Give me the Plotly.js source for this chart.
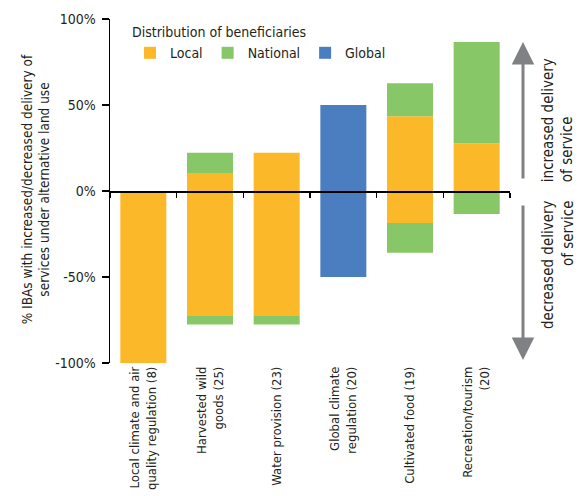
<!DOCTYPE html>
<html>
<head>
<meta charset="utf-8">
<script src="https://cdn.plot.ly/plotly-3.0.1.min.js"></script>
<style>html,body{margin:0;padding:0;background:#fff;}#chart{width:579px;height:496px;}</style>
</head>
<body>
<div id="chart"></div>
<script>
const categories = [
  "Local climate and air<br>quality regulation (8)",
  "Harvested wild<br>goods (25)",
  "Water provision (23)",
  "Global climate<br>regulation (20)",
  "Cultivated food (19)",
  "Recreation/tourism<br>(20)"
];
// stacked segments (increments), positive = increased, negative = decreased
const localUp      = [0, 10, 22.3, 0, 43.5, 27.8];
const localDown    = [-100, -72.3, -72.3, 0, -18.6, 0];
const nationalUp   = [0, 12.3, 0, 0, 19.2, 58.8];
const nationalDown = [0, -5.3, -5.3, 0, -17.3, -13.4];
const globalUp     = [0, 0, 0, 50, 0, 0];
const globalDown   = [0, 0, 0, -50, 0, 0];
const yTicks = [-100, -50, 0, 50, 100];
const yTickText = ["-100%", "-50%", "0%", "50%", "100%"];

const FONT = "'Liberation Sans Narrow', 'DejaVu Sans Condensed', 'Roboto', sans-serif";
const cLocal = "#FBB829", cNat = "#88C767", cGlob = "#4A7EC1", cArrow = "#808184";

function bar(y, color, name, show) {
  return {type: 'bar', x: categories, y: y, name: name, showlegend: show,
    marker: {color: color, line: {width: 0}}, hoverinfo: 'skip'};
}
const traces = [
  bar(localUp, cLocal, 'Local', true),
  bar(localDown, cLocal, 'Local', false),
  bar(nationalUp, cNat, 'National', true),
  bar(nationalDown, cNat, 'National', false),
  bar(globalUp, cGlob, 'Global', true),
  bar(globalDown, cGlob, 'Global', false),
  {type: 'scatter', x: categories, y: categories.map(() => null), xaxis: 'x2', showlegend: false, hoverinfo: 'skip'}
];

const layout = {
  width: 579, height: 496,
  margin: {l: 110, r: 69, t: 19, b: 133},
  paper_bgcolor: '#fff', plot_bgcolor: '#fff',
  font: {family: FONT, size: 14, color: '#231F20'},
  barmode: 'relative', bargap: 0.31,
  showlegend: true,
  legend: {orientation: 'h', x: 0.05, y: 1.0, xanchor: 'left', yanchor: 'top',
    bgcolor: 'rgba(0,0,0,0)', font: {size: 14},
    title: {text: 'Distribution of beneficiaries', side: 'top', font: {size: 14}},
    traceorder: 'normal', itemclick: false, tracegroupgap: 0, itemwidth: 30},
  xaxis: {type: 'category', range: [-0.5, 5.5], showline: false, ticks: '',
    tickangle: -90, showgrid: false, zeroline: false, fixedrange: true,
    tickfont: {size: 13}},
  xaxis2: {type: 'category', overlaying: 'x', anchor: 'free', position: 0.5,
    range: [-0.5, 5.5], tickson: 'boundaries', ticks: 'outside', ticklen: 5,
    tickcolor: '#000', tickwidth: 1.3, showticklabels: false,
    showline: true, linecolor: '#000', linewidth: 1.5, layer: 'above traces',
    showgrid: false, zeroline: false, side: 'bottom'},
  yaxis: {range: [-100, 100], tickvals: yTicks, ticktext: yTickText,
    showline: true, linecolor: '#000', linewidth: 1.5, ticks: 'outside', ticklen: 7,
    tickcolor: '#000', tickwidth: 1.3, showgrid: false, zeroline: false,
    tickfont: {size: 14}, ticklabelstandoff: 3},
  annotations: [
    {xref: 'paper', yref: 'paper', x: -0.185, y: 0.505, xanchor: 'center', yanchor: 'middle',
      text: '% IBAs with increased/decreased delivery of<br>services under alternative land use',
      textangle: -90, showarrow: false, align: 'center', font: {size: 13.5}},
    {xref: 'paper', yref: 'paper', x: 1.0325, y: 0.933, ax: 0, ay: 138, axref: 'pixel', ayref: 'pixel',
      xanchor: 'center', yanchor: 'middle',
      text: '', showarrow: true, arrowhead: 2, arrowwidth: 3, arrowsize: 1.5, arrowcolor: cArrow},
    {xref: 'paper', yref: 'paper', x: 1.0325, y: 0.009, ax: 0, ay: -156, axref: 'pixel', ayref: 'pixel',
      xanchor: 'center', yanchor: 'middle',
      text: '', showarrow: true, arrowhead: 2, arrowwidth: 3, arrowsize: 1.5, arrowcolor: cArrow},
    {xref: 'paper', yref: 'paper', x: 1.12, y: 0.706, xanchor: 'center', yanchor: 'middle',
      text: 'increased delivery<br>of service',
      textangle: -90, showarrow: false, align: 'left', font: {size: 15}},
    {xref: 'paper', yref: 'paper', x: 1.12, y: 0.285, xanchor: 'center', yanchor: 'middle',
      text: 'decreased delivery<br>of service',
      textangle: -90, showarrow: false, align: 'right', font: {size: 15}}
  ]
};
Plotly.newPlot('chart', traces, layout, {displayModeBar: false, staticPlot: true});
</script>
</body>
</html>
